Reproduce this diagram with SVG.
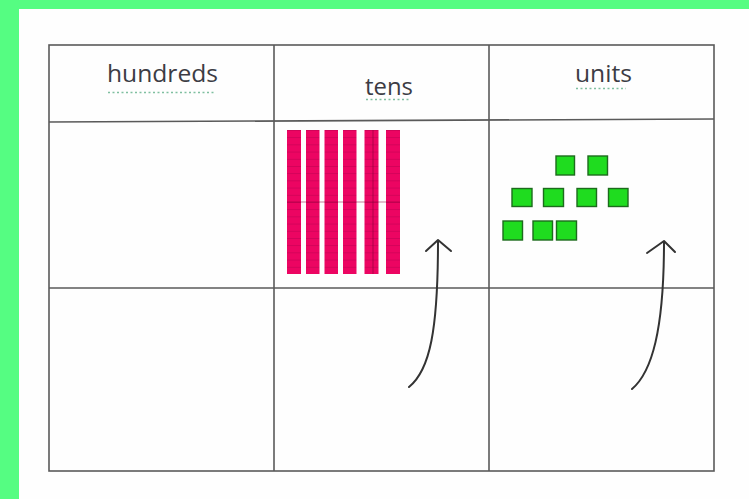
<svg xmlns="http://www.w3.org/2000/svg" width="749" height="499" viewBox="0 0 749 499">
  <defs>
    <style>
      .grid { stroke: #5a5a5a; stroke-width: 1.6; fill: none; }
      .head { font-family: "Open Sans", "Liberation Sans", sans-serif; font-size: 23px; fill: #3c3c44; }
      .squiggle { stroke: #7fbfa0; stroke-width: 1.4; stroke-dasharray: 2 2.5; fill: none; }
      .cube { fill: #1fdc1f; stroke: #1d6b1d; stroke-width: 1.4; }
      .arrow { stroke: #333; stroke-width: 2; fill: none; stroke-linecap: round; stroke-linejoin: round; }
    </style>
    <!-- one tens rod: ten stacked cells with faint borders -->
    <pattern id="rodGrid" x="0" y="130" width="14" height="7.2" patternUnits="userSpaceOnUse">
      <rect width="14" height="7.2" fill="#ec0562"/>
      <line x1="0" y1="0.3" x2="14" y2="0.3" stroke="#a8004a" stroke-width="0.8" opacity="0.55"/>
    </pattern>
  </defs>

  <!-- page background with green frame -->
  <rect x="0" y="0" width="749" height="499" fill="#fefefe"/>
  <rect x="0" y="0" width="749" height="9" fill="#55fd82"/>
  <rect x="0" y="0" width="19" height="499" fill="#55fd82"/>

  <!-- place value table -->
  <g id="table">
    <rect class="grid" x="49" y="45" width="665" height="426"/>
    <path class="grid" d="M49 122 L714 119"/>
    <path class="grid" d="M49 288 L714 288"/>
    <path class="grid" d="M274 45 L274 471"/>
    <path class="grid" d="M489 45 L489 471"/>
  </g>

  <g id="header-hundreds">
    <text class="head" x="107" y="82" textLength="111" lengthAdjust="spacingAndGlyphs">hundreds</text>
    <path class="squiggle" d="M108 92.5 L216 92.5"/>
  </g>
  <g id="header-tens">
    <text class="head" x="365" y="95" textLength="48" lengthAdjust="spacingAndGlyphs">tens</text>
    <path class="squiggle" d="M366 99.5 L410 99.5"/>
  </g>
  <g id="header-units">
    <text class="head" x="575" y="82" textLength="57" lengthAdjust="spacingAndGlyphs">units</text>
    <path class="squiggle" d="M576 88.5 L626 88.5"/>
  </g>

  <!-- six tens rods -->
  <g id="tens-rods">
    <rect x="287" y="130" width="14" height="144" fill="url(#rodGrid)"/>
    <rect x="306" y="130" width="13.5" height="144" fill="url(#rodGrid)"/>
    <rect x="324.5" y="130" width="13.5" height="144" fill="url(#rodGrid)"/>
    <rect x="343" y="130" width="13.5" height="144" fill="url(#rodGrid)"/>
    <rect x="364.5" y="130" width="14" height="144" fill="url(#rodGrid)"/>
    <line x1="373" y1="130" x2="373" y2="274" stroke="#8a0038" stroke-width="1" opacity="0.6"/>
    <rect x="386" y="130" width="14" height="144" fill="url(#rodGrid)"/>
    <line x1="287" y1="202" x2="400" y2="202" stroke="#8a0038" stroke-width="1.2" opacity="0.5"/>
  </g>

  <!-- nine unit cubes -->
  <g id="unit-cubes">
    <rect class="cube" x="556" y="156" width="18.5" height="19"/>
    <rect class="cube" x="588" y="156" width="19.5" height="19"/>
    <rect class="cube" x="512" y="188.5" width="20" height="18"/>
    <rect class="cube" x="543.5" y="188.5" width="20" height="18"/>
    <rect class="cube" x="577" y="188.5" width="19.5" height="18"/>
    <rect class="cube" x="608.5" y="188.5" width="19.5" height="18"/>
    <rect class="cube" x="503" y="221" width="19.5" height="19"/>
    <rect class="cube" x="533" y="221" width="19.5" height="19"/>
    <rect class="cube" x="556.5" y="221" width="20" height="19"/>
  </g>

  <!-- exchange arrows -->
  <g id="connectors">
    <path class="arrow" d="M409 387 C430 370 438 330 438 241"/>
    <path class="arrow" d="M426 251 L438 240 L451 251"/>
    <path class="arrow" d="M632 389 C652 372 664 330 664 242"/>
    <path class="arrow" d="M647 253 L664 241 L675 252"/>
  </g>
</svg>
